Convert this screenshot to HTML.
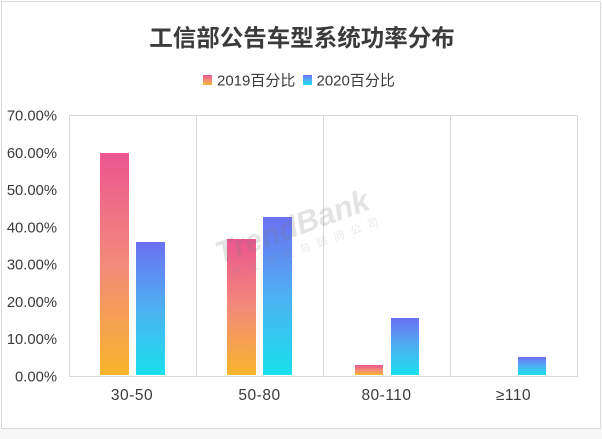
<!DOCTYPE html>
<html>
<head>
<meta charset="utf-8">
<style>
  html, body { margin:0; padding:0; background:#ffffff; }
  body { width:602px; height:439px; overflow:hidden; }
  svg { display:block; }
  text { font-family: "Liberation Sans", "Noto Sans CJK SC", sans-serif; }
</style>
</head>
<body>
<svg width="602" height="439" viewBox="0 0 602 439" xmlns="http://www.w3.org/2000/svg">
  <defs>
    <linearGradient id="gp" x1="0" y1="0" x2="0" y2="1">
      <stop offset="0" stop-color="#ec5590"/>
      <stop offset="0.5" stop-color="#f28a7a"/>
      <stop offset="1" stop-color="#f8b52c"/>
    </linearGradient>
    <linearGradient id="gb" x1="0" y1="0" x2="0" y2="1">
      <stop offset="0" stop-color="#6b70f2"/>
      <stop offset="0.5" stop-color="#4eb0f2"/>
      <stop offset="1" stop-color="#18e0ec"/>
    </linearGradient>
  </defs>

  <!-- outer frame -->
  <rect x="0" y="0" width="602" height="439" fill="#ffffff"/>
  <rect x="1.5" y="1.5" width="599" height="427" fill="#ffffff" stroke="#dadada" stroke-width="1"/>
  <rect x="0" y="429" width="602" height="10" fill="#f7f7f7"/>

  <!-- title -->
  <text x="302" y="46" font-size="23.5" font-weight="bold" fill="#3b3b3b" text-anchor="middle">工信部公告车型系统功率分布</text>

  <!-- legend -->
  <rect x="203" y="75" width="9" height="10" fill="url(#gp)"/>
  <text x="217" y="85.5" font-size="15" fill="#3a3a3a">2019百分比</text>
  <rect x="303" y="75" width="9" height="10" fill="url(#gb)"/>
  <text x="316.5" y="85.5" font-size="15" fill="#3a3a3a">2020百分比</text>

  <!-- grid -->
  <g stroke="#d9d9d9" stroke-width="1" fill="none">
    <line x1="69" y1="115.5" x2="577" y2="115.5"/>
    <line x1="69.5" y1="115" x2="69.5" y2="376"/>
    <line x1="196.5" y1="115" x2="196.5" y2="376"/>
    <line x1="323.5" y1="115" x2="323.5" y2="376"/>
    <line x1="450.5" y1="115" x2="450.5" y2="376"/>
    <line x1="577.5" y1="115" x2="577.5" y2="376"/>
    <line x1="69" y1="376.5" x2="578" y2="376.5"/>
  </g>

  <!-- y labels -->
  <g font-size="14.8" fill="#3a3a3a" text-anchor="end">
    <text x="57" y="120.5">70.00%</text>
    <text x="57" y="157.8">60.00%</text>
    <text x="57" y="195.1">50.00%</text>
    <text x="57" y="232.4">40.00%</text>
    <text x="57" y="269.6">30.00%</text>
    <text x="57" y="306.9">20.00%</text>
    <text x="57" y="344.2">10.00%</text>
    <text x="57" y="381.5">0.00%</text>
  </g>

  <!-- x labels -->
  <g font-size="15.5" fill="#3a3a3a" text-anchor="middle" letter-spacing="0.5">
    <text x="132" y="400">30-50</text>
    <text x="259.5" y="400">50-80</text>
    <text x="386.5" y="400">80-110</text>
    <text x="513.5" y="400">≥110</text>
  </g>

  <!-- bars -->
  <rect x="100" y="153" width="29" height="222" fill="url(#gp)"/>
  <rect x="136" y="242" width="29" height="133" fill="url(#gb)"/>
  <rect x="227" y="239" width="29" height="136" fill="url(#gp)"/>
  <rect x="263" y="217" width="29" height="158" fill="url(#gb)"/>
  <rect x="355" y="365" width="28" height="10" fill="url(#gp)"/>
  <rect x="391" y="318" width="28" height="57" fill="url(#gb)"/>
  <rect x="518" y="357" width="28" height="18" fill="url(#gb)"/>

  <!-- watermark -->
  <g transform="translate(220,264) rotate(-20)" opacity="0.2">
    <text x="0" y="0" font-size="31" font-weight="bold" font-style="italic" fill="#7a7a7a">TrendBank</text>
    <text x="8" y="18" font-size="11" fill="#888888" letter-spacing="7">产业研究与顾问公司</text>
  </g>
</svg>
</body>
</html>
